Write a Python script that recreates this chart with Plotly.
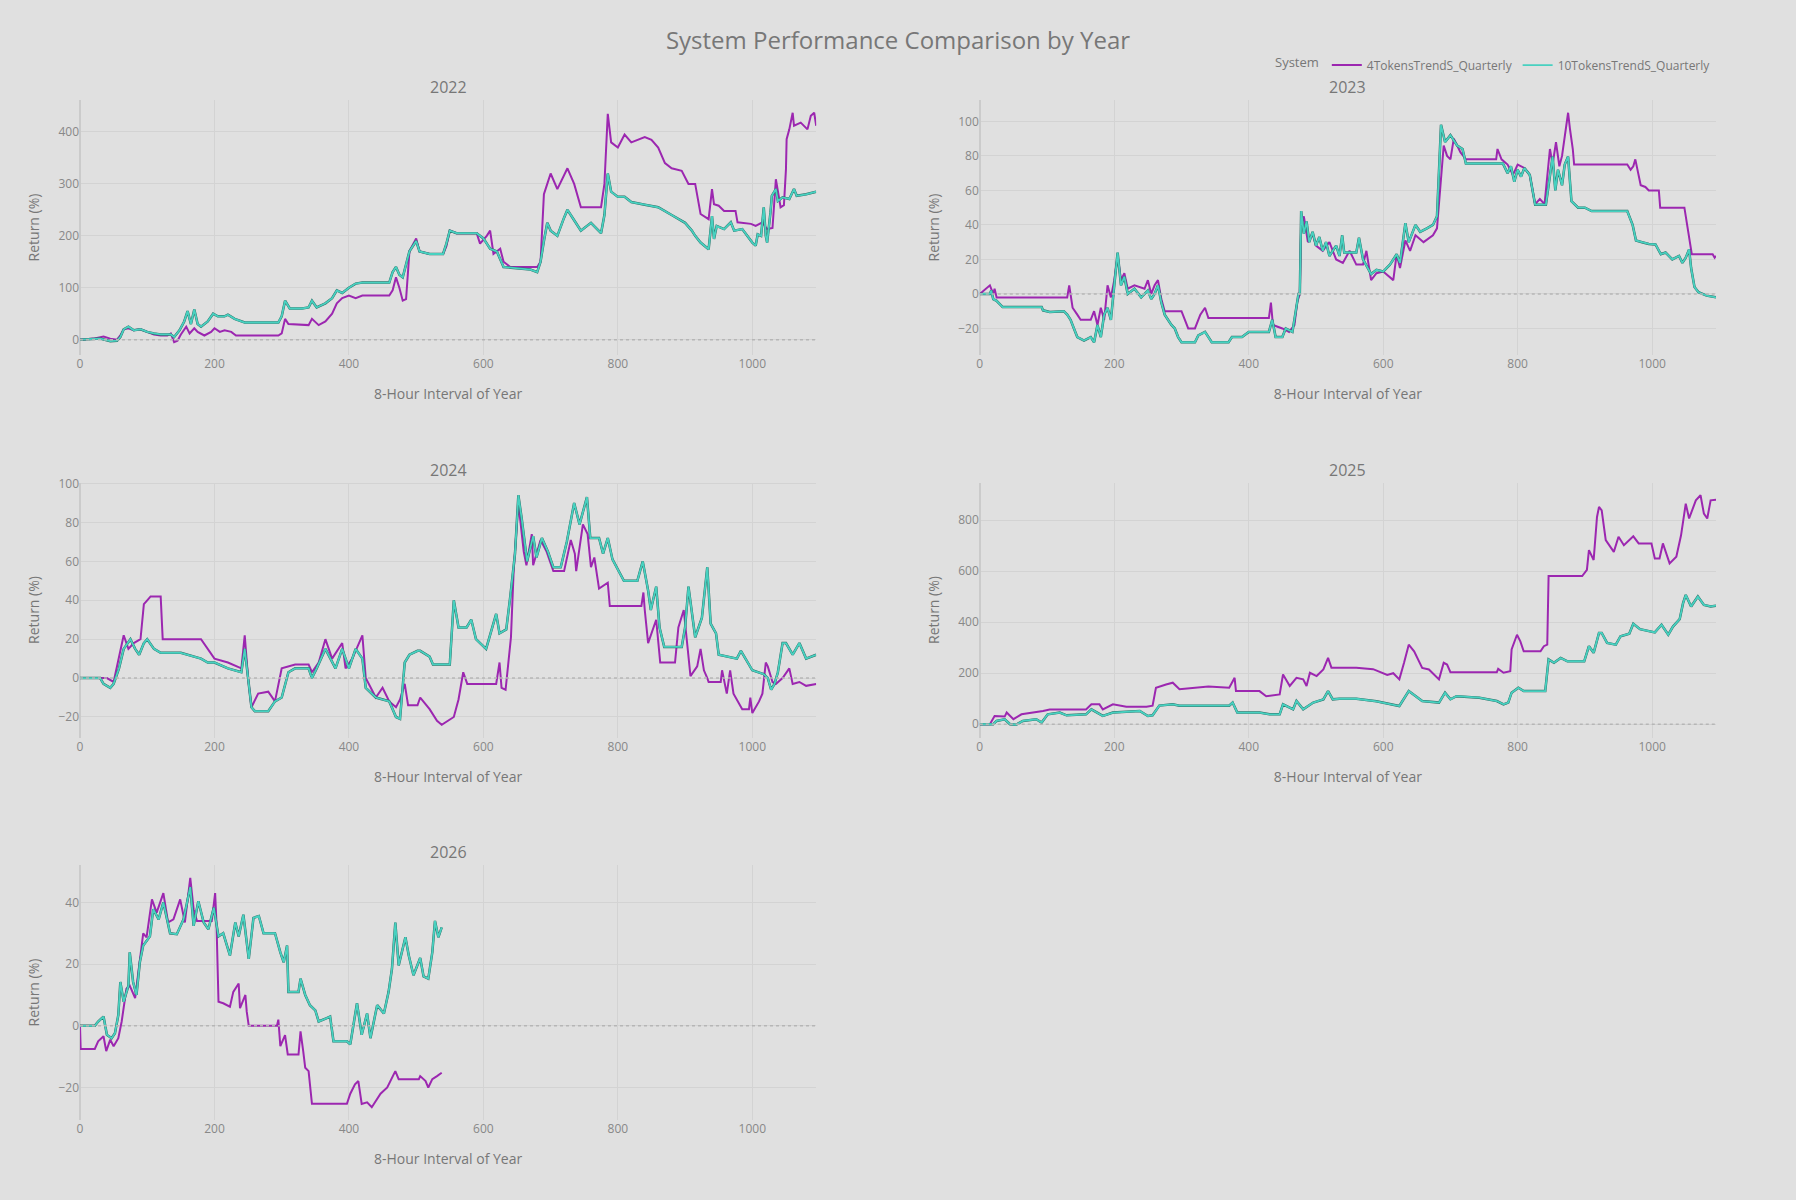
import plotly.graph_objects as go
from plotly.subplots import make_subplots

# ---------------- data ----------------
years = ["2022", "2023", "2024", "2025", "2026"]
systems = ["4TokensTrendS_Quarterly", "10TokensTrendS_Quarterly"]

# 2022
x22_a = [0, 20, 35, 45, 55, 60, 65, 72, 80, 90, 100, 110, 120, 130, 135, 140, 145, 150, 158, 163, 170, 175, 185, 195, 200, 208, 215, 225, 232, 295, 300, 305, 310, 330, 340, 345, 355, 365, 375, 382, 390, 400, 410, 420, 460, 465, 470, 475, 480, 485, 490, 500, 505, 520, 540, 545, 550, 560, 590, 595, 605, 610, 615, 625, 630, 640, 680, 685, 690, 695, 700, 710, 720, 725, 735, 745, 775, 780, 785, 790, 800, 810, 820, 830, 840, 850, 860, 870, 880, 895, 905, 915, 923, 935, 940, 943, 950, 958, 975, 978, 998, 1005, 1015, 1020, 1022, 1030, 1035, 1040, 1042, 1047, 1050, 1051, 1055, 1060, 1062, 1072, 1082, 1087, 1092, 1095]
y22_a = [0, 2, 6, 2, 0, 8, 20, 22, 18, 20, 15, 10, 8, 8, 12, -5, -2, 10, 25, 12, 22, 15, 8, 15, 22, 15, 18, 15, 8, 8, 12, 40, 30, 28, 28, 40, 28, 35, 50, 70, 80, 85, 80, 85, 85, 95, 120, 100, 75, 78, 170, 195, 170, 165, 165, 180, 210, 205, 205, 185, 200, 210, 165, 175, 150, 140, 140, 150, 280, 300, 320, 290, 315, 330, 300, 255, 255, 300, 435, 380, 370, 395, 380, 385, 390, 385, 370, 340, 330, 325, 300, 300, 242, 232, 290, 261, 258, 248, 248, 226, 223, 219, 226, 216, 213, 215, 309, 271, 255, 259, 328, 386, 405, 437, 412, 418, 405, 431, 437, 412]
x22_b = [0, 30, 45, 55, 60, 65, 72, 80, 90, 100, 110, 120, 135, 140, 148, 155, 160, 165, 170, 175, 180, 190, 198, 205, 215, 220, 230, 245, 295, 300, 305, 312, 330, 340, 345, 352, 365, 375, 382, 390, 400, 410, 420, 460, 465, 470, 475, 480, 490, 500, 505, 520, 540, 545, 550, 560, 590, 600, 610, 620, 630, 670, 680, 685, 690, 695, 700, 710, 720, 725, 735, 745, 760, 775, 780, 785, 790, 800, 810, 820, 840, 860, 880, 900, 910, 915, 923, 935, 940, 943, 947, 958, 968, 973, 985, 992, 1000, 1005, 1008, 1013, 1017, 1020, 1022, 1027, 1029, 1035, 1038, 1045, 1055, 1062, 1066, 1080, 1095]
y22_b = [0, 2, -3, -2, 5, 20, 25, 18, 20, 15, 12, 10, 10, 5, 18, 35, 55, 30, 58, 30, 25, 35, 50, 45, 45, 48, 40, 33, 33, 45, 75, 60, 60, 62, 75, 62, 70, 80, 95, 90, 100, 108, 110, 110, 130, 140, 125, 120, 170, 190, 170, 165, 165, 185, 210, 205, 205, 195, 175, 170, 140, 135, 130, 150, 190, 225, 210, 200, 235, 250, 230, 210, 225, 205, 240, 320, 285, 275, 275, 265, 260, 255, 240, 225, 210, 200, 187, 174, 238, 194, 219, 213, 226, 210, 213, 200, 187, 181, 203, 200, 255, 200, 187, 245, 277, 290, 267, 274, 271, 290, 277, 280, 285]

# 2023
x23_a = [0, 10, 15, 20, 22, 25, 130, 133, 138, 145, 150, 165, 170, 175, 180, 185, 190, 195, 200, 205, 210, 215, 220, 230, 245, 250, 255, 260, 265, 270, 275, 300, 305, 310, 320, 328, 335, 340, 430, 433, 436, 450, 460, 468, 472, 476, 478, 482, 488, 495, 500, 510, 520, 530, 540, 550, 560, 570, 575, 582, 590, 600, 615, 620, 625, 633, 640, 648, 660, 674, 680, 686, 690, 695, 700, 705, 715, 723, 768, 770, 776, 785, 793, 800, 810, 818, 826, 833, 840, 848, 852, 857, 862, 866, 870, 875, 878, 882, 884, 963, 968, 972, 975, 983, 990, 995, 1010, 1012, 1048, 1052, 1055, 1059, 1090, 1093, 1095]
y23_a = [0, 3, 5, 0, 3, -2, -2, 5, -8, -12, -15, -15, -10, -18, -8, -15, 5, -2, 8, 22, 8, 12, 3, 5, 3, 8, 0, 5, 8, -3, -10, -10, -15, -20, -20, -12, -8, -14, -14, -5, -18, -20, -22, -18, -5, 0, 40, 45, 30, 35, 28, 25, 30, 20, 18, 25, 17, 17, 25, 8, 12, 13, 8, 23, 15, 31, 25, 34, 30, 34, 38, 70, 86, 80, 78, 90, 82, 78, 78, 84, 78, 75, 69, 75, 73, 69, 52, 55, 52, 84, 75, 88, 74, 80, 92, 105, 95, 84, 75, 75, 72, 74, 78, 63, 62, 60, 60, 50, 50, 40, 34, 23, 23, 21, 22]
x23_b = [0, 15, 17, 20, 25, 34, 92, 94, 104, 125, 130, 135, 140, 145, 155, 165, 170, 175, 180, 185, 190, 195, 200, 205, 210, 215, 220, 230, 240, 250, 255, 260, 265, 270, 275, 280, 285, 290, 295, 300, 320, 325, 335, 345, 370, 375, 390, 400, 430, 435, 440, 450, 455, 465, 470, 474, 476, 478, 482, 486, 490, 495, 500, 505, 510, 515, 520, 530, 535, 539, 542, 560, 564, 570, 582, 590, 600, 610, 620, 625, 633, 638, 648, 655, 665, 674, 680, 684, 686, 692, 700, 710, 718, 723, 778, 785, 790, 795, 800, 805, 810, 818, 826, 842, 848, 852, 856, 860, 866, 870, 875, 880, 890, 900, 910, 963, 971, 976, 985, 995, 1005, 1013, 1020, 1030, 1040, 1045, 1050, 1055, 1058, 1063, 1069, 1081, 1095]
y23_b = [0, 0, 2, -3, -4, -7.6, -7.6, -9.5, -10.5, -10, -12, -15, -20, -25, -27, -25, -28, -18, -25, -12, -8, -15, 5, 24, 5, 10, 0, 3, -2, 2, -3, 0, 5, -5, -12, -15, -18, -20, -25, -28, -28, -24, -22, -28, -28, -25, -25, -22, -22, -15, -25, -25, -20, -22, -10, 0, 0, 48, 35, 42, 30, 36, 28, 33, 25, 30, 22, 28, 22, 34, 24, 24, 32.5, 20, 11.5, 14, 13, 17, 23, 18, 41, 30, 40, 36, 38, 40, 45, 75, 98, 88, 92, 86, 84, 75.6, 75.6, 70, 74, 65, 72, 68, 73, 69, 51.7, 51.7, 67, 79.6, 60, 72, 63, 75, 79.6, 53.7, 50, 50, 48, 48, 40, 31, 30, 29, 28.7, 23, 24, 20, 22, 18, 21, 25.8, 15, 4, 1, -1, -2]

# 2024
x24_a = [0, 40, 50, 58, 65, 72, 80, 90, 95, 100, 105, 120, 123, 180, 190, 200, 220, 240, 245, 250, 255, 265, 280, 290, 300, 320, 340, 345, 355, 365, 375, 390, 395, 405, 420, 425, 440, 450, 460, 470, 476, 483, 488, 502, 506, 520, 531, 538, 556, 563, 570, 576, 619, 624, 627, 633, 641, 645, 652, 660, 664, 672, 674, 685, 694, 704, 720, 730, 736, 738, 748, 755, 760, 765, 772, 785, 788, 835, 838, 840, 845, 857, 863, 885, 890, 898, 908, 918, 923, 928, 933, 935, 953, 955, 962, 967, 972, 977, 985, 995, 997, 1000, 1010, 1015, 1020, 1023, 1030, 1035, 1045, 1055, 1060, 1070, 1080, 1095]
y24_a = [0, 0, -2, 10, 22, 15, 18, 20, 38, 40, 42, 42, 20, 20, 15, 10, 8, 5, 22, 0, -15, -8, -7, -12, 5, 7, 7, 3, 8, 20, 10, 18, 5, 10, 22, 0, -10, -5, -12, -15, -11, -3, -14, -14, -10, -16, -22, -24, -20, -11, 3, -3, -3, 8, -5, -6, 21, 55, 90, 65, 58, 74, 58, 71, 65, 55, 55, 71, 64, 55, 79, 74, 57, 62, 46, 49, 37, 37, 44, 35, 18, 30, 8, 8, 26, 35, 1, 6, 15, 4, 0, -2, -2, 4, -8, 4, -8, -11, -16, -16, -10, -18, -12, -8, 8, 6, -2, -3, 0, 5, -3, -2, -4, -3]
x24_b = [0, 30, 35, 45, 50, 58, 65, 75, 82, 88, 95, 100, 110, 120, 150, 160, 180, 190, 200, 220, 240, 245, 250, 255, 260, 280, 290, 300, 310, 320, 340, 345, 352, 365, 380, 390, 400, 410, 420, 425, 440, 460, 470, 476, 483, 490, 502, 506, 520, 525, 550, 556, 563, 575, 582, 589, 604, 619, 624, 634, 640, 647, 652, 657, 665, 674, 679, 687, 696, 704, 715, 724, 735, 743, 754, 759, 772, 778, 785, 792, 809, 829, 837, 845, 849, 857, 862, 869, 895, 900, 905, 915, 925, 933, 938, 946, 950, 977, 983, 993, 1000, 1017, 1023, 1028, 1033, 1038, 1045, 1050, 1060, 1070, 1080, 1095]
y24_b = [0, 0, -3, -5, -3, 5, 15, 20, 15, 12, 18, 20, 15, 13, 13, 12, 10, 8, 8, 5, 3, 15, 0, -15, -17, -17, -12, -10, 3, 5, 5, 0, 5, 15, 5, 15, 5, 15, 10, -5, -10, -12, -20, -21, 8, 12, 14, 14, 11, 7, 7, 40, 26, 26, 30, 20, 15, 33, 23, 25, 42, 64, 94, 82, 60, 73, 62, 72, 65, 57, 57, 70, 90, 79, 93, 72, 72, 64, 72, 61, 50, 50, 60, 45, 35, 47, 26, 16, 16, 26, 47, 21, 31, 57, 28, 23, 12, 10, 14, 8, 4, 2, 0, -6, -3, 3, 18, 18, 12, 18, 10, 12]

# 2025
x25_a = [0, 15, 22, 37, 40, 50, 62, 84, 94, 104, 158, 166, 178, 183, 198, 218, 248, 257, 262, 277, 287, 297, 317, 340, 371, 379, 381, 416, 426, 446, 451, 461, 471, 481, 486, 491, 501, 511, 518, 523, 535, 560, 585, 606, 615, 624, 631, 638, 646, 658, 668, 675, 683, 690, 695, 700, 769, 771, 779, 789, 791, 799, 804, 809, 834, 839, 844, 846, 896, 903, 906, 913, 918, 921, 925, 931, 943, 950, 958, 972, 980, 999, 1004, 1011, 1016, 1021, 1026, 1036, 1043, 1050, 1055, 1065, 1072, 1077, 1082, 1087, 1095]
y25_a = [0, 0, 32, 30, 46, 20, 39, 46, 52, 58, 58, 78, 78, 58, 78, 69, 69, 73, 143, 156, 163, 137, 143, 148, 143, 182, 130, 130, 110, 117, 195, 150, 182, 176, 150, 202, 189, 215, 260, 222, 222, 222, 216, 193, 200, 176, 241, 312, 286, 221, 215, 195, 176, 241, 234, 204, 204, 217, 202, 208, 293, 351, 325, 286, 286, 306, 312, 581, 581, 605, 683, 644, 813, 852, 839, 722, 676, 735, 702, 737, 709, 709, 650, 650, 709, 670, 631, 657, 741, 865, 807, 878, 898, 826, 807, 878, 880]
x25_b = [0, 20, 25, 37, 45, 54, 64, 84, 92, 101, 119, 129, 158, 166, 183, 198, 238, 250, 257, 267, 287, 297, 371, 376, 383, 416, 431, 446, 451, 466, 471, 481, 496, 511, 518, 525, 535, 560, 590, 610, 624, 638, 658, 683, 692, 700, 709, 743, 769, 779, 786, 791, 801, 809, 841, 846, 854, 864, 874, 899, 906, 913, 921, 925, 933, 946, 953, 966, 972, 982, 1004, 1014, 1024, 1031, 1041, 1046, 1050, 1058, 1068, 1077, 1087, 1095]
y25_b = [0, 0, 13, 19.5, 0, -2, 13, 19.5, 6.5, 39, 45.6, 35, 39, 58.5, 32.5, 45.6, 52, 32.5, 35, 73, 78, 73, 73, 85, 45.6, 45.6, 39, 39, 78, 58.5, 91, 58.5, 85, 97.6, 130, 97.6, 100, 100, 90, 80, 71.5, 130, 91, 85, 123.6, 98, 110, 104, 91, 78, 85, 123.6, 143, 130, 130, 254, 241, 260, 247, 247, 306, 280, 358, 358, 319, 312, 345, 355, 394, 373, 360, 390, 351, 383, 412, 475, 507, 462, 501, 468, 462, 465]

# 2026
x26_a = [0, 1, 22, 27, 35, 39, 45, 50, 57, 62, 69, 74, 82, 89, 94, 99, 107, 114, 124, 131, 139, 149, 156, 164, 169, 174, 196, 201, 203, 206, 213, 223, 228, 236, 238, 246, 248, 251, 293, 295, 298, 305, 309, 325, 328, 332, 335, 340, 345, 397, 402, 409, 414, 419, 427, 434, 447, 457, 464, 469, 474, 504, 506, 514, 518, 524, 531, 538]
y26_a = [0, -7.5, -7.5, -5, -3.4, -8.2, -4.5, -6.6, -4, 1.4, 12, 13, 9, 20.6, 30, 28.7, 41, 36.7, 43, 33.5, 34.5, 41, 33.5, 48, 37.8, 34, 34, 43, 33.5, 7.8, 7.3, 6.2, 11, 13.7, 5.7, 10, 4.6, 0, 0, 2, -6.6, -3, -9.3, -9.3, -1.8, -8.2, -13.6, -14.7, -25.3, -25.3, -22, -19, -17.9, -25.3, -24.8, -26.4, -22, -20, -16.8, -14.7, -17.3, -17.3, -16.3, -17.9, -20, -17.3, -16.3, -15.2]
x26_b = [0, 22, 27, 35, 40, 47, 52, 57, 60, 65, 72, 74, 79, 84, 89, 94, 104, 109, 117, 124, 134, 144, 154, 164, 169, 176, 184, 191, 199, 206, 213, 223, 231, 236, 243, 251, 258, 266, 273, 290, 298, 303, 308, 310, 325, 328, 335, 342, 350, 355, 367, 372, 377, 397, 402, 407, 412, 419, 427, 432, 442, 452, 459, 464, 469, 474, 484, 489, 496, 506, 511, 518, 524, 528, 533, 538]
y26_b = [0, 0, 1.4, 3, -2.9, -4, -2.4, 3.5, 14.2, 7.8, 13, 23.8, 14.2, 10, 20.6, 26, 29, 37.8, 34.5, 40, 30, 29.7, 34.5, 45, 32.4, 40.4, 33.5, 31.3, 38.3, 29, 30, 22.8, 33.5, 29, 36, 21.7, 35, 35.6, 30, 30, 23.8, 20.6, 26, 11, 11, 15.3, 10, 6.7, 5, 1.4, 2.5, 3, -5, -5, -6, 0.3, 7.3, -2.9, 4, -4, 6.7, 4, 11, 18.5, 33.5, 19.6, 28.7, 22.8, 16.4, 22, 16, 15.3, 23.8, 34, 28.7, 31.9]

series_a_x = [x22_a, x23_a, x24_a, x25_a, x26_a]
series_a_y = [y22_a, y23_a, y24_a, y25_a, y26_a]
series_b_x = [x22_b, x23_b, x24_b, x25_b, x26_b]
series_b_y = [y22_b, y23_b, y24_b, y25_b, y26_b]
y_dticks = [100, 20, 20, 200, 20]

# ---------------- styling ----------------
BG = "#e0e0e0"
GRID = "#d3d3d3"
TXT = "#777777"
PURPLE = "#9c27b0"
TEAL = "#48d1c0"
TEAL_EDGE = "#2a6a62"

positions = [(1, 1), (1, 2), (2, 1), (2, 2), (3, 1)]

fig = make_subplots(rows=3, cols=2, subplot_titles=years,
                    horizontal_spacing=0.1, vertical_spacing=0.125)

for i, (r, c) in enumerate(positions):
    first = i == 0
    fig.add_trace(go.Scatter(x=series_a_x[i], y=series_a_y[i], mode="lines",
                             name=systems[0], legendgroup=systems[0], showlegend=first,
                             line=dict(color=PURPLE, width=2)), row=r, col=c)
    fig.add_trace(go.Scatter(x=series_b_x[i], y=series_b_y[i], mode="lines",
                             name=systems[1], legendgroup=systems[1], showlegend=False,
                             hoverinfo="skip",
                             line=dict(color=TEAL_EDGE, width=2.5)), row=r, col=c)
    fig.add_trace(go.Scatter(x=series_b_x[i], y=series_b_y[i], mode="lines",
                             name=systems[1], legendgroup=systems[1], showlegend=first,
                             line=dict(color=TEAL, width=1.8)), row=r, col=c)
    fig.add_hline(y=0, line_dash="dot", line_color="#b6b6b6", line_width=1.5, row=r, col=c)
    fig.update_xaxes(title_text="8-Hour Interval of Year", range=[0, 1095], dtick=200, row=r, col=c)
    fig.update_yaxes(title_text="Return (%)", dtick=y_dticks[i], row=r, col=c)

fig.update_xaxes(showgrid=True, gridcolor=GRID, zeroline=True, zerolinecolor="#cbcbcb",
                 zerolinewidth=2, showline=False, tickfont=dict(size=12, color="#888888"),
                 title_font=dict(size=14, color=TXT), title_standoff=18)
fig.update_yaxes(showgrid=True, gridcolor=GRID, zeroline=False, showline=False,
                 tickfont=dict(size=12, color="#888888"), title_font=dict(size=14, color=TXT))

fig.update_annotations(font=dict(size=16, color=TXT))

fig.update_layout(
    width=1796, height=1200,
    paper_bgcolor=BG, plot_bgcolor=BG,
    font=dict(family="Open Sans, verdana, arial, sans-serif", color=TXT, size=12),
    title=dict(text="System Performance Comparison by Year", x=0.5, xanchor="center",
               y=0.966, yanchor="middle", font=dict(size=24, color=TXT)),
    legend=dict(orientation="h", x=1, xanchor="right", y=1.02, yanchor="bottom",
                title=dict(text="System", font=dict(size=13, color=TXT)),
                font=dict(size=12, color=TXT), bgcolor="rgba(0,0,0,0)"),
    margin=dict(l=80, r=80, t=100, b=80),
)

fig.write_html("out.html")
